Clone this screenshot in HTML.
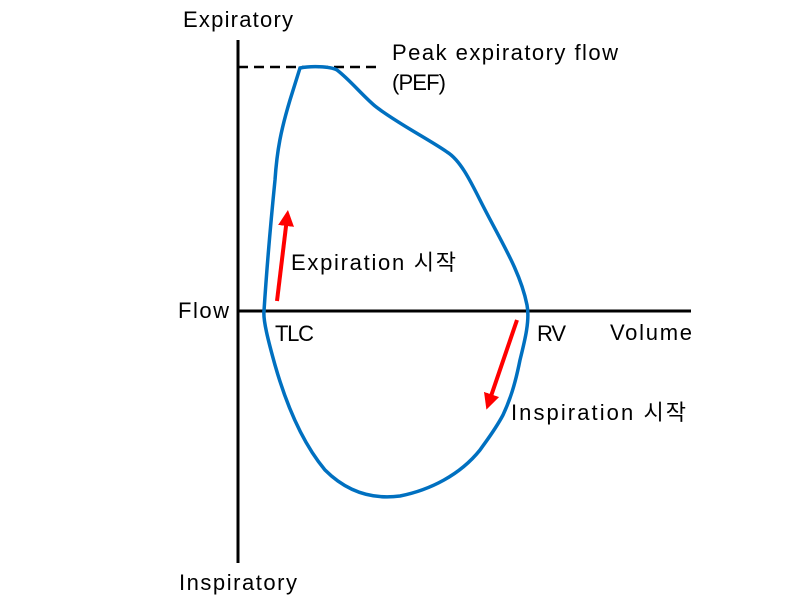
<!DOCTYPE html>
<html><head><meta charset="utf-8"><style>
body{margin:0;background:#fff}
svg text{font-family:"Liberation Sans","Noto Sans CJK KR",sans-serif;font-size:22px;fill:#000}
</style></head><body>
<svg width="809" height="606" viewBox="0 0 809 606" xmlns="http://www.w3.org/2000/svg">
<defs><marker id="a" markerWidth="4" markerHeight="4" refX="2" refY="2" orient="auto" markerUnits="strokeWidth"><path d="M0,0 L4,2 L0,4 z" fill="#f00"/></marker></defs>
<line x1="238" y1="40" x2="238" y2="563" stroke="#000" stroke-width="3"/>
<line x1="237" y1="311" x2="691" y2="311" stroke="#000" stroke-width="3"/>
<line x1="238" y1="67" x2="382" y2="67" stroke="#000" stroke-width="2.5" stroke-dasharray="10,6"/>
<path d="M264,311 C266,280 270,230 275,180 C277,150 281,130 290,100 L300,68 C310,66 330,66 337,70 C350,80 362,95 375,106 C395,122 430,140 447,152 C460,160 470,180 480,200 C500,240 520,270 527,305 C530,320 525,340 520,360 C515,385 510,400 503,415 C495,430 487,440 480,450 C460,475 430,490 400,496 C370,500 345,490 325,470 C300,440 285,400 275,365 C268,340 263,320 264,311 Z" fill="none" stroke="#0070c0" stroke-width="3.5"/>
<line x1="277" y1="301" x2="287" y2="218" stroke="#f00" stroke-width="4" marker-end="url(#a)"/>
<line x1="517" y1="320" x2="489" y2="402" stroke="#f00" stroke-width="4" marker-end="url(#a)"/>
<text x="183" y="27" textLength="110">Expiratory</text>
<text x="392" y="60" textLength="226">Peak expiratory flow</text>
<text x="392" y="90" textLength="54">(PEF)</text>
<text x="291" y="270" textLength="165">Expiration 시작</text>
<text x="178" y="318" textLength="51">Flow</text>
<text x="275" y="341" textLength="39">TLC</text>
<text x="537" y="341" textLength="29">RV</text>
<text x="610" y="340" textLength="82">Volume</text>
<text x="511" y="420" textLength="175">Inspiration 시작</text>
<text x="179" y="590" textLength="118">Inspiratory</text>
</svg>
</body></html>
